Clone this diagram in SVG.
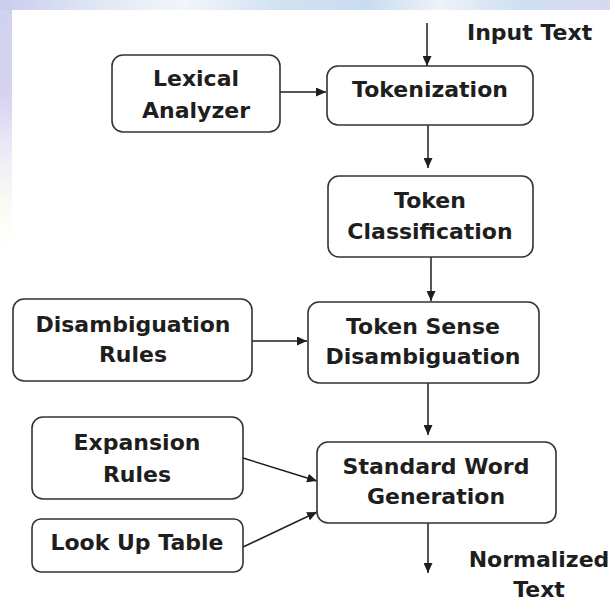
<svg xmlns="http://www.w3.org/2000/svg" width="610" height="603" viewBox="0 0 610 603">
<defs>
<linearGradient id="topband" x1="0" y1="0" x2="1" y2="0">
<stop offset="0" stop-color="#c9cdee"/>
<stop offset="0.15" stop-color="#dfe6f4"/>
<stop offset="0.3" stop-color="#f2f5fa"/>
<stop offset="0.45" stop-color="#d3e2f2"/>
<stop offset="0.6" stop-color="#c8dcf0"/>
<stop offset="0.72" stop-color="#eef2f8"/>
<stop offset="0.85" stop-color="#cfe0f2"/>
<stop offset="1" stop-color="#d8d8f0"/>
</linearGradient>
<linearGradient id="leftband" x1="0" y1="0" x2="0" y2="1">
<stop offset="0" stop-color="#cfd3ef"/>
<stop offset="0.35" stop-color="#d6d3ef"/>
<stop offset="0.6" stop-color="#ececf8"/>
<stop offset="0.8" stop-color="#fbfbf2"/>
<stop offset="1" stop-color="#ffffff"/>
</linearGradient>
<marker id="arr" markerUnits="userSpaceOnUse" markerWidth="11" markerHeight="9" refX="10" refY="4.5" orient="auto">
<path d="M0,0 L10,4.5 L0,9 z" fill="#1e1e1e"/>
</marker>
</defs>
<style>
.box{fill:#ffffff;stroke:#333333;stroke-width:1.6}
.lbl{font-family:"DejaVu Sans","Liberation Sans",sans-serif;font-weight:bold;font-size:22px;fill:#1e1e1e;text-anchor:middle}
.con{stroke:#1e1e1e;stroke-width:1.5;fill:none;marker-end:url(#arr)}
</style>
<rect x="0" y="0" width="610" height="603" fill="#ffffff"/>
<rect x="0" y="0" width="610" height="10" fill="url(#topband)"/>
<rect x="0" y="10" width="12" height="240" fill="url(#leftband)"/>

<g id="connectors">
<line class="con" x1="427" y1="23" x2="427" y2="66"/>
<line class="con" x1="280" y1="92" x2="326" y2="92"/>
<line class="con" x1="428" y1="125" x2="428" y2="168"/>
<line class="con" x1="431" y1="257" x2="431" y2="301"/>
<line class="con" x1="252" y1="341" x2="307" y2="341"/>
<line class="con" x1="428" y1="383" x2="428" y2="435"/>
<line class="con" x1="243" y1="458" x2="317" y2="481"/>
<line class="con" x1="243" y1="547" x2="317" y2="512"/>
<line class="con" x1="428" y1="523" x2="428" y2="573"/>
</g>

<g id="input-text">
<text class="lbl" x="467" y="40" style="text-anchor:start">Input Text</text>
</g>

<g id="lexical-analyzer">
<rect class="box" x="112" y="55" width="168" height="77" rx="11"/>
<text class="lbl" x="196" y="86">Lexical</text>
<text class="lbl" x="196" y="118">Analyzer</text>
</g>

<g id="tokenization">
<rect class="box" x="327" y="66" width="206" height="59" rx="11"/>
<text class="lbl" x="430" y="97">Tokenization</text>
</g>

<g id="token-classification">
<rect class="box" x="328" y="176" width="205" height="81" rx="11"/>
<text class="lbl" x="430" y="208">Token</text>
<text class="lbl" x="430" y="239">Classification</text>
</g>

<g id="disambiguation-rules">
<rect class="box" x="13" y="299" width="239" height="82" rx="11"/>
<text class="lbl" x="133" y="332">Disambiguation</text>
<text class="lbl" x="133" y="362">Rules</text>
</g>

<g id="token-sense-disambiguation">
<rect class="box" x="308" y="302" width="231" height="81" rx="11"/>
<text class="lbl" x="423" y="334">Token Sense</text>
<text class="lbl" x="423" y="364">Disambiguation</text>
</g>

<g id="expansion-rules">
<rect class="box" x="32" y="417" width="211" height="82" rx="11"/>
<text class="lbl" x="137" y="450">Expansion</text>
<text class="lbl" x="137" y="482">Rules</text>
</g>

<g id="look-up-table">
<rect class="box" x="32" y="519" width="211" height="53" rx="9"/>
<text class="lbl" x="137" y="550">Look Up Table</text>
</g>

<g id="standard-word-generation">
<rect class="box" x="317" y="442" width="239" height="81" rx="11"/>
<text class="lbl" x="436" y="474">Standard Word</text>
<text class="lbl" x="436" y="504">Generation</text>
</g>

<g id="normalized-text">
<text class="lbl" x="539" y="567">Normalized</text>
<text class="lbl" x="539" y="597">Text</text>
</g>
</svg>
